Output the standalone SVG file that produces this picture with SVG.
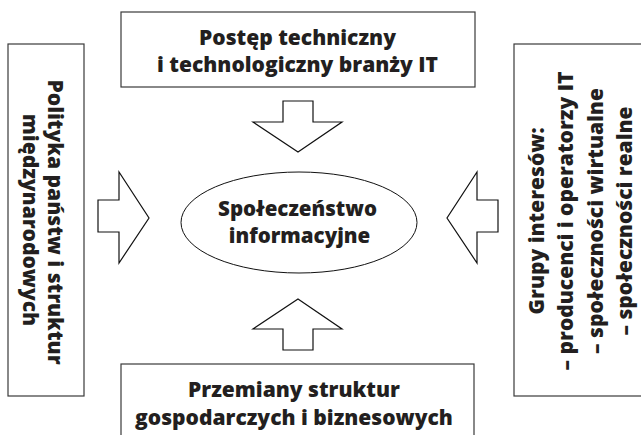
<svg xmlns="http://www.w3.org/2000/svg" width="641" height="435" viewBox="0 0 641 435">
<style>
.box{fill:#fff;stroke:#3a3a3a;stroke-width:1.2}
.arr{fill:#fff;stroke:#111;stroke-width:1.2;stroke-linejoin:miter}
.t{font-family:"Open Sans","Noto Sans","DejaVu Sans",sans-serif;font-weight:800;fill:#231f20;font-size:21px;text-anchor:middle}
.m{font-size:20.5px}
</style>
<rect width="641" height="435" fill="#fff"/>
<g id="top">
<rect class="box" x="121" y="12" width="354" height="75"/>
<text class="t" x="297.5" y="45">Postęp techniczny</text>
<text class="t" x="297.5" y="72">i technologiczny branży IT</text>
</g>
<g id="bottom">
<rect class="box" x="121" y="364" width="353" height="80"/>
<text class="t" x="294" y="397">Przemiany struktur</text>
<text class="t" x="294" y="425">gospodarczych i biznesowych</text>
</g>
<g id="left">
<rect class="box" x="8" y="44" width="76" height="352"/>
<text class="t" transform="translate(48,222) rotate(90)">Polityka państw i struktur</text>
<text class="t" transform="translate(23,220) rotate(90)">międzynarodowych</text>
</g>
<g id="right">
<rect class="box" x="514" y="44" width="140" height="352"/>
<text class="t" transform="translate(544,221) rotate(-90)">Grupy interesów:</text>
<text class="t" transform="translate(573,221) rotate(-90)">– producenci i operatorzy IT</text>
<text class="t" transform="translate(603,221) rotate(-90)">– społeczności wirtualne</text>
<text class="t" transform="translate(632,221) rotate(-90)">– społeczności realne</text>
</g>
<g id="center">
<ellipse cx="299" cy="222.5" rx="118" ry="50.5" fill="#fff" stroke="#111" stroke-width="1"/>
<text class="t m" x="297.5" y="215.5">Społeczeństwo</text>
<text class="t m" x="299.5" y="242.5">informacyjne</text>
</g>
<g id="connectors">
<polygon class="arr" points="283,101 313,101 313,122 342,122 298,152 253,122 283,122"/>
<polygon class="arr" points="298,299 342,329 313,329 313,350 283,350 283,329 253,329"/>
<polygon class="arr" points="98,200 119,200 119,172 149,218 119,263 119,232 98,232"/>
<polygon class="arr" points="498,200 477,200 477,172 447,218 477,263 477,232 498,232"/>
</g>
</svg>
